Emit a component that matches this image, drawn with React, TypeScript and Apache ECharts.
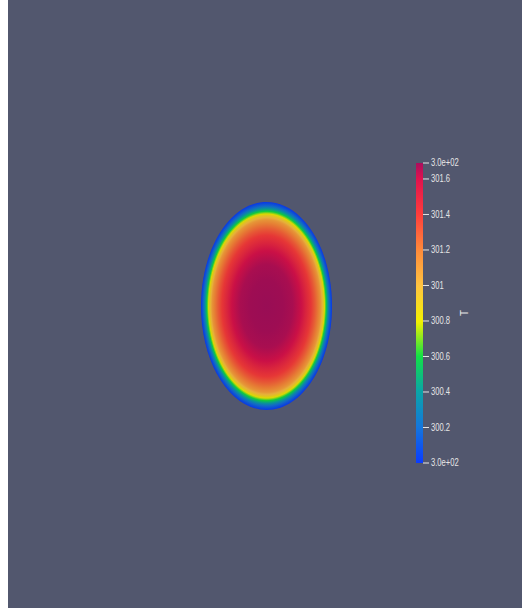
import React, { useEffect, useRef } from "react";
import * as echarts from "echarts";

// Temperature range of the field (K)
const T_MIN = 300.0;
const T_MAX = 301.69;
const T_STEP = 0.2;
const END_LABEL = "3.0e+02";
const BAR_TITLE = "T";
// Intermediate colour-bar ticks
const TICK_VALUES = [300.2, 300.4, 300.6, 300.8, 301.0, 301.2, 301.4, 301.6];
const TICK_LABELS = ["300.2", "300.4", "300.6", "300.8", "301", "301.2", "301.4", "301.6"];

// Colour map: position along the range (0..1) and colour at that position
const MAP_POS = [0, 0.12, 0.24, 0.355, 0.47, 0.59, 0.71, 0.83, 0.947, 1];
const MAP_COLORS = [
  "#0a3cff",
  "#1476dc",
  "#0aa6a6",
  "#12e046",
  "#f2f200",
  "#ffc440",
  "#ff8a3a",
  "#ff3c3c",
  "#e0124e",
  "#aa0e5e",
];

// Section face (model units): centre x, centre y, semi-axis x, semi-axis y
const FACE = [[0, 0, 0.63, 1.0]];

// Radial temperature profile across the face, r normalised to the boundary
const PROFILE_R = [0, 0.25, 0.4, 0.53, 0.6, 0.68, 0.74, 0.79, 0.83, 0.85, 0.87, 0.885, 0.91, 0.935, 0.96, 1];
const PROFILE_T = [
  301.69, 301.68, 301.66, 301.6, 301.5, 301.4, 301.3, 301.2, 301.1, 301.0, 300.9, 300.8, 300.6, 300.4, 300.2,
  300.0,
];

const BG = "#52576e";
const TEXT = "#e6e6e6";
const FONT = "'Liberation Sans', Arial, sans-serif";
// Diffuse lighting on the rendered surface
const SHADE = 0.9;

function hexToRgb(h: string): number[] {
  const n = parseInt(h.slice(1), 16);
  return [(n >> 16) & 255, (n >> 8) & 255, n & 255];
}

// Look up the colour of a temperature in the colour map
function tempColor(T: number, shade = 1): string {
  const t = Math.min(1, Math.max(0, (T - T_MIN) / (T_MAX - T_MIN)));
  let rgb = hexToRgb(MAP_COLORS[MAP_COLORS.length - 1]);
  for (let i = 1; i < MAP_POS.length; i++) {
    if (t <= MAP_POS[i]) {
      const f = (t - MAP_POS[i - 1]) / (MAP_POS[i] - MAP_POS[i - 1]);
      const a = hexToRgb(MAP_COLORS[i - 1]);
      const b = hexToRgb(MAP_COLORS[i]);
      rgb = a.map((v, k) => v + (b[k] - v) * f);
      break;
    }
  }
  return `rgb(${rgb.map((v) => Math.round(v * shade)).join(",")})`;
}

export default function App() {
  const ref = useRef<HTMLDivElement>(null);

  useEffect(() => {
    if (!ref.current) return;
    const chart = echarts.init(ref.current, undefined, { renderer: "svg" });

    const faceStops = PROFILE_R.map((r, i) => ({ offset: r, color: tempColor(PROFILE_T[i], SHADE) }));
    const barStops = MAP_POS.map((p, i) => ({ offset: p, color: MAP_COLORS[i] }));

    const tickData = [
      [T_MIN, END_LABEL],
      ...TICK_VALUES.map((v, i) => [v, TICK_LABELS[i]]),
      [T_MAX, END_LABEL],
    ];

    chart.setOption({
      animation: false,
      backgroundColor: BG,
      grid: [
        { left: 50.5, top: 46, width: 416, height: 520, show: false },
        { left: 408, top: 163, width: 7, height: 300, show: false },
      ],
      xAxis: [
        { gridIndex: 0, type: "value", min: -2, max: 2, show: false },
        { gridIndex: 1, type: "value", min: 0, max: 1, show: false },
      ],
      yAxis: [
        { gridIndex: 0, type: "value", min: -2.5, max: 2.5, show: false },
        {
          gridIndex: 1,
          type: "value",
          position: "right",
          min: T_MIN,
          max: T_MAX,
          interval: T_STEP,
          axisLine: { show: false },
          splitLine: { show: false },
          axisTick: { show: false },
          axisLabel: { show: false },
          name: BAR_TITLE,
          nameLocation: "middle",
          nameRotate: 90,
          nameGap: 36,
          nameTextStyle: { color: TEXT, fontSize: 10, fontFamily: FONT },
        },
      ],
      series: [
        {
          type: "custom",
          xAxisIndex: 0,
          yAxisIndex: 0,
          silent: true,
          data: FACE,
          renderItem: (_params: any, api: any) => {
            const x = api.value(0);
            const y = api.value(1);
            const a = api.value(2);
            const b = api.value(3);
            const c = api.coord([x, y]);
            const px = api.coord([x + a, y]);
            const py = api.coord([x, y + b]);
            return {
              type: "ellipse",
              shape: {
                cx: c[0],
                cy: c[1],
                rx: Math.abs(px[0] - c[0]),
                ry: Math.abs(py[1] - c[1]),
              },
              style: { fill: new echarts.graphic.RadialGradient(0.5, 0.5, 0.5, faceStops) },
            };
          },
        },
        {
          // colour bar
          type: "custom",
          xAxisIndex: 1,
          yAxisIndex: 1,
          silent: true,
          data: [[T_MIN, T_MAX]],
          renderItem: (_params: any, api: any) => {
            const lo = api.coord([0, api.value(0)]);
            const hi = api.coord([1, api.value(1)]);
            return {
              type: "rect",
              shape: { x: lo[0], y: hi[1], width: hi[0] - lo[0], height: lo[1] - hi[1] },
              style: { fill: new echarts.graphic.LinearGradient(0, 1, 0, 0, barStops) },
            };
          },
        },
        {
          // colour-bar ticks and their labels
          type: "custom",
          xAxisIndex: 1,
          yAxisIndex: 1,
          silent: true,
          data: tickData,
          encode: { y: 0 },
          renderItem: (params: any, api: any) => {
            const p = api.coord([1, api.value(0)]);
            const text = tickData[params.dataIndex][1] as string;
            return {
              type: "group",
              children: [
                {
                  type: "line",
                  shape: { x1: p[0], y1: p[1], x2: p[0] + 6, y2: p[1] },
                  style: { stroke: TEXT, lineWidth: 1 },
                },
                {
                  type: "text",
                  x: p[0] + 8,
                  y: p[1],
                  scaleX: 0.76,
                  style: {
                    text,
                    fill: TEXT,
                    fontSize: 10,
                    fontFamily: FONT,
                    align: "left",
                    verticalAlign: "middle",
                  },
                },
              ],
            };
          },
        },
      ],
    });

    return () => chart.dispose();
  }, []);

  return (
    <div
      ref={ref}
      style={{ position: "absolute", left: 8, top: 0, width: 514, height: 608 }}
    />
  );
}
